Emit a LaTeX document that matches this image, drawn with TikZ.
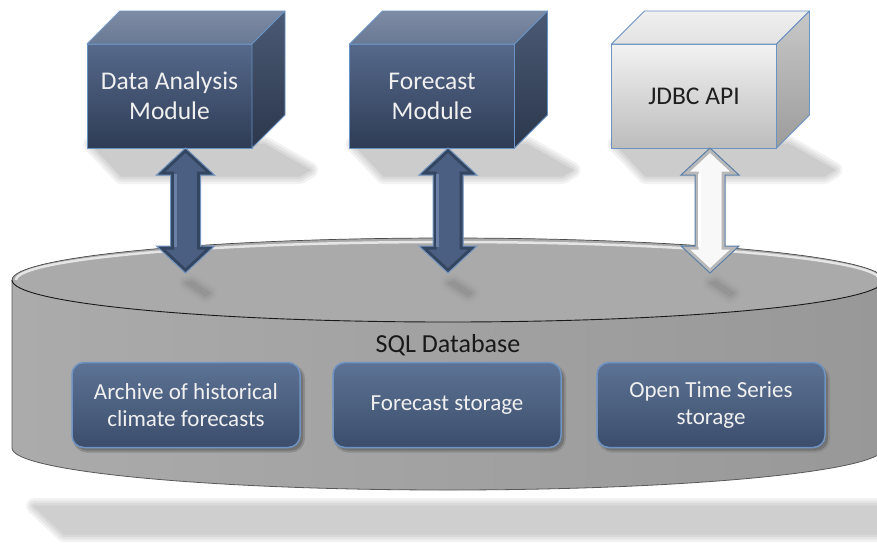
\documentclass[tikz,border=0pt]{standalone}
\usepackage{fontspec}
\setmainfont{Carlito}
\usetikzlibrary{calc}
\pgfdeclarelayer{bg}
\pgfsetlayers{bg,main}
\definecolor{dFrontT}{HTML}{56698C}
\definecolor{dFrontB}{HTML}{2E3C55}
\definecolor{dTopT}{HTML}{7D8BA4}
\definecolor{dTopB}{HTML}{6A7994}
\definecolor{dSideT}{HTML}{4B5A75}
\definecolor{dSideB}{HTML}{2B374C}
\definecolor{lFrontT}{HTML}{F2F2F2}
\definecolor{lFrontB}{HTML}{BCBCBC}
\definecolor{lTopT}{HTML}{F0F0F0}
\definecolor{lTopB}{HTML}{E2E2E2}
\definecolor{lSideT}{HTML}{C8C8C8}
\definecolor{lSideB}{HTML}{9C9C9C}
\definecolor{cubeEdge}{HTML}{6A92C2}
\definecolor{boxT}{HTML}{5D7395}
\definecolor{boxB}{HTML}{3B4D6B}
\definecolor{boxEdge}{HTML}{6F93C2}
\definecolor{arrFill}{HTML}{4B5F82}
\definecolor{arrRim}{HTML}{34455F}
\definecolor{arrHi}{HTML}{6A80A6}
\definecolor{arrEdge}{HTML}{7395C0}
\definecolor{warrFill}{HTML}{F8F8F8}
\definecolor{warrRim}{HTML}{B8B8B8}
\definecolor{warrHi}{HTML}{FFFFFF}
\definecolor{warrEdge}{HTML}{5A7FA8}
\definecolor{cylTop}{HTML}{AAAAAA}
\definecolor{cylL}{HTML}{ABABAB}
\definecolor{cylR}{HTML}{989898}

% cube side and top faces of a front node
\newcommand\cubefaces[5]{%
  \shade[top color=#2, bottom color=#3, draw=cubeEdge, line width=0.8pt, line join=round]
    (#1.north west) -- ($(#1.north west)+(33,-33)$) -- ($(#1.north east)+(33,-33)$) -- (#1.north east) -- cycle;
  \shade[top color=#4, bottom color=#5, draw=cubeEdge, line width=0.8pt, line join=round]
    (#1.north east) -- ($(#1.north east)+(33,-33)$) -- ($(#1.south east)+(33,-33)$) -- (#1.south east) -- cycle;
}
% soft (blurred) filled shape: colours from outside to inside
\newcommand\softfill[5]{%
  \path[fill=#1, draw=#1, line width=16pt, line join=round] #5;
  \path[fill=#2, draw=#2, line width=11pt, line join=round] #5;
  \path[fill=#3, draw=#3, line width=6pt, line join=round] #5;
  \path[fill=#4, draw=#4, line width=1pt, line join=round] #5;
}
% outline of a vertical double block arrow between a top tip and a bottom tip
\newcommand\arrpoly[2]{(#1) -- ($(#1)+(29,27)$) -- ($(#1)+(15,27)$) -- ($(#2)+(15,-27)$)
    -- ($(#2)+(29,-27)$) -- (#2) -- ($(#2)+(-29,-27)$) -- ($(#2)+(-15,-27)$)
    -- ($(#1)+(-15,27)$) -- ($(#1)+(-29,27)$) -- cycle}
% bevelled double arrow: #1 top, #2 bottom, #3 fill, #4 rim, #5 highlight, #6 edge
\newcommand\dblarrow[6]{%
  \begin{scope}
    \clip \arrpoly{#1}{#2};
    \fill[#3] \arrpoly{#1}{#2};
    \draw[#4, line width=7pt, line join=miter] \arrpoly{#1}{#2};
    \draw[#5, line width=3pt] ($(#1)+(-10.5,26)$) -- ($(#2)+(-10.5,-26)$);
  \end{scope}
  \draw[#6, line width=1pt, line join=miter] \arrpoly{#1}{#2};
}

\begin{document}
\begin{tikzpicture}[x=1pt, y=-1pt,
  cubefront/.style={minimum width=165pt, minimum height=104pt, inner sep=0pt, outer sep=0pt,
    align=center, draw=cubeEdge, line width=0.8pt, font=\fontsize{25.5}{30}\selectfont},
  darkcube/.style={cubefront, top color=dFrontT, bottom color=dFrontB, text=white!94!black},
  lightcube/.style={cubefront, top color=lFrontT, bottom color=lFrontB, text=black!88},
  store/.style={rounded corners=12pt, minimum width=228pt, minimum height=85pt, inner sep=0pt,
    outer sep=0pt, align=center, draw=boxEdge, line width=1.5pt, top color=boxT, bottom color=boxB,
    text=white!94!black, font=\fontsize{23}{27.5}\selectfont},
  dbtext/.style={font=\fontsize{26}{30}\selectfont, text=black!90}
]
\useasboundingbox (0,0) rectangle (877,544);

% ---- cubes ----
\node[darkcube] (dam) at (169.5,96) {Data Analysis\\Module};
\cubefaces{dam}{dTopT}{dTopB}{dSideT}{dSideB}
\node[darkcube] (fm) at (432,96) {Forecast\\Module};
\cubefaces{fm}{dTopT}{dTopB}{dSideT}{dSideB}
\node[lightcube] (jdbc) at (694,96) {JDBC API};
\cubefaces{jdbc}{lTopT}{lTopB}{lSideT}{lSideB}

% ---- database contents ----
\node[dbtext] (db) at (448,345) {SQL Database};
\node[store] (arch) at (186,405) {Archive of historical\\climate forecasts};
\node[store] (fst) at (447,405) {Forecast storage};
\node[store] (ots) at (711,405) {Open Time Series\\storage};

% arrow end points
\coordinate (a1t) at ($(dam.south)+(16,0)$);
\coordinate (a2t) at ($(fm.south)+(16,0)$);
\coordinate (a3t) at ($(jdbc.south)+(16,0)$);
\coordinate (a1b) at (185.5,273);
\coordinate (a2b) at (448,273);
\coordinate (a3b) at (710,273);

\begin{pgfonlayer}{bg}
  \clip (0,0) rectangle (877,544);
  \fill[white] (0,0) rectangle (877,544);
  % shadow of the database
  \softfill{black!5}{black!10}{black!15}{black!19}{(34,506) -- (900,506) -- (900,534) -- (64,534) -- cycle}
  % cylinder body
  \shade[left color=cylL, right color=cylR]
    (12,280) -- (12,448) arc[start angle=180, end angle=360, x radius=436pt, y radius=42pt]
    -- (884,280) arc[start angle=0, end angle=180, x radius=436pt, y radius=42pt] -- cycle;
  \draw[black!65, line width=0.8pt]
    (12,280) -- (12,448) arc[start angle=180, end angle=360, x radius=436pt, y radius=42pt] -- (884,280);
  % top face
  \fill[cylTop] (448,280) ellipse[x radius=436pt, y radius=42pt];
  \draw[white, opacity=0.7, line width=2.5pt]
    (16,280) arc[start angle=180, end angle=0, x radius=432pt, y radius=38pt];
  \draw[black!70, line width=0.7pt]
    (12,280) arc[start angle=180, end angle=0, x radius=436pt, y radius=42pt];
  \draw[black!90, line width=0.9pt]
    (12,280) arc[start angle=180, end angle=360, x radius=436pt, y radius=42pt];
  % shadows of the cubes
  \foreach \c in {dam,fm,jdbc}{
    \softfill{black!5}{black!10}{black!15}{black!20}
      {($(\c.south west)+(4,-4)$) -- ($(\c.south east)+(12,-4)$) -- ($(\c.south east)+(58,22)$)
       -- ($(\c.south east)+(48,28)$) -- ($(\c.south west)+(34,28)$) -- cycle}
  }
  % shadows of the arrow tips on the top face
  \foreach \c in {a1b,a2b,a3b}{
    \softfill{black!34}{black!36}{black!39}{black!42}
      {($(\c)+(0,10)$) -- ($(\c)+(6,8)$) -- ($(\c)+(24,20)$) -- ($(\c)+(20,23)$) -- cycle}
  }
  % shadows of the storage boxes
  \foreach \c in {arch,fst,ots}{
    \path[fill=black!45, draw=black!45, line width=4pt, rounded corners=12pt]
      ($(\c.north west)+(3,4)$) rectangle ($(\c.south east)+(3,3)$);
    \path[fill=black!55, rounded corners=12pt]
      ($(\c.north west)+(3,4)$) rectangle ($(\c.south east)+(3,3)$);
  }
\end{pgfonlayer}

% ---- connectors ----
\dblarrow{a1t}{a1b}{arrFill}{arrRim}{arrHi}{arrEdge}
\dblarrow{a2t}{a2b}{arrFill}{arrRim}{arrHi}{arrEdge}
\dblarrow{a3t}{a3b}{warrFill}{warrRim}{warrHi}{warrEdge}
\end{tikzpicture}
\end{document}
